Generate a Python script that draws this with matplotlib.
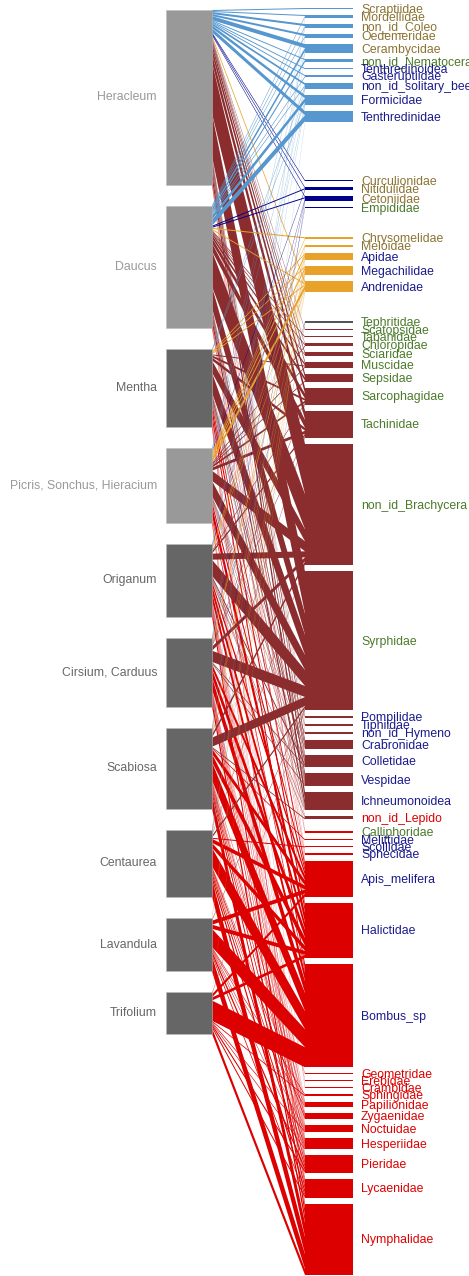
import matplotlib.pyplot as plt
from matplotlib.patches import Rectangle, Polygon
import numpy as np

plt.rcParams['font.family'] = ['Liberation Sans', 'DejaVu Sans']

# plants (lower level), top to bottom
plants = ["Heracleum", "Daucus", "Mentha", "Picris, Sonchus, Hieracium", "Origanum",
          "Cirsium, Carduus", "Scabiosa", "Centaurea", "Lavandula", "Trifolium"]
plant_shade = ["light", "light", "dark", "light", "dark",
               "dark", "dark", "dark", "dark", "dark"]

# insects (higher level), top to bottom
insects = ["Scraptiidae", "Mordellidae", "non_id_Coleo", "Oedemeridae", "Cerambycidae",
           "non_id_Nematocera", "Tenthredinoidea", "Gasteruptiidae", "non_id_solitary_bee",
           "Formicidae", "Tenthredinidae",
           "Curculionidae", "Nitidulidae", "Cetoniidae", "Empididae",
           "Chrysomelidae", "Meloidae", "Apidae", "Megachilidae", "Andrenidae",
           "Tephritidae", "Scatopsidae", "Tabanidae", "Chloropidae", "Sciaridae", "Muscidae",
           "Sepsidae", "Sarcophagidae", "Tachinidae", "non_id_Brachycera", "Syrphidae",
           "Pompilidae", "Tiphiidae", "non_id_Hymeno", "Crabronidae", "Colletidae", "Vespidae",
           "Ichneumonoidea", "non_id_Lepido",
           "Calliphoridae", "Melittidae", "Scoliidae", "Sphecidae", "Apis_melifera",
           "Halictidae", "Bombus_sp", "Geometridae", "Erebidae", "Crambidae", "Sphingidae",
           "Papilionidae", "Zygaenidae", "Noctuidae", "Hesperiidae", "Pieridae",
           "Lycaenidae", "Nymphalidae"]

# insect order -> label colour
insect_order = ["Col", "Col", "Col", "Col", "Col", "Dip", "Hym", "Hym", "Hym", "Hym", "Hym",
                "Col", "Col", "Col", "Dip",
                "Col", "Col", "Hym", "Hym", "Hym",
                "Dip", "Dip", "Dip", "Dip", "Dip", "Dip", "Dip", "Dip", "Dip", "Dip", "Dip",
                "Hym", "Hym", "Hym", "Hym", "Hym", "Hym", "Hym", "Lep",
                "Dip", "Hym", "Hym", "Hym", "Hym", "Hym", "Hym", "Lep", "Lep", "Lep", "Lep",
                "Lep", "Lep", "Lep", "Lep", "Lep", "Lep", "Lep"]

# module -> box and link colour
insect_module = ["A"] * 11 + ["B"] * 4 + ["C"] * 5 + ["G"] + ["D"] * 18 + ["E"] * 18

# visits: one row per insect, columns follow plants
visits = np.array([
    [1, 0, 0, 0, 0, 0, 0, 0, 0, 0],
    [1, 1, 0, 0, 0, 0, 1, 0, 0, 0],
    [2, 1, 0, 1, 0, 0, 0, 0, 0, 0],
    [2, 1, 0, 0, 0, 1, 0, 0, 0, 0],
    [4, 3, 0, 1, 0, 0, 1, 0, 0, 0],
    [1, 2, 0, 0, 0, 0, 0, 0, 0, 0],
    [1, 0, 0, 0, 0, 0, 0, 0, 0, 0],
    [1, 1, 0, 0, 0, 0, 0, 0, 0, 0],
    [2, 1, 1, 1, 1, 0, 0, 0, 0, 0],
    [3, 4, 1, 0, 1, 1, 0, 0, 0, 0],
    [4, 6, 0, 0, 0, 0, 0, 1, 0, 0],
    [1, 0, 0, 0, 0, 0, 0, 0, 0, 0],
    [1, 1, 0, 1, 0, 0, 0, 0, 0, 0],
    [1, 1, 0, 0, 1, 1, 0, 1, 0, 0],
    [0, 0, 0, 0, 0, 0, 1, 0, 0, 0],
    [0, 1, 0, 1, 0, 0, 0, 0, 0, 0],
    [0, 0, 0, 1, 0, 0, 1, 0, 0, 0],
    [0, 0, 1, 2, 1, 1, 0, 0, 1, 1],
    [0, 0, 1, 2, 1, 2, 1, 1, 1, 0],
    [2, 1, 1, 4, 1, 0, 1, 1, 0, 0],
    [0, 0, 0, 0, 0, 1, 0, 1, 0, 0],
    [1, 0, 0, 0, 0, 0, 0, 0, 0, 0],
    [0, 1, 0, 0, 0, 0, 0, 0, 0, 0],
    [1, 1, 0, 1, 0, 0, 0, 0, 0, 0],
    [2, 1, 0, 0, 0, 0, 0, 0, 0, 0],
    [2, 2, 1, 1, 0, 0, 0, 0, 0, 0],
    [4, 3, 0, 1, 0, 0, 0, 0, 0, 0],
    [6, 5, 2, 2, 1, 1, 0, 0, 0, 0],
    [9, 8, 3, 3, 2, 1, 1, 0, 0, 0],
    [50, 35, 12, 10, 6, 4, 3, 1, 0, 0],
    [42, 21, 20, 15, 16, 11, 9, 2, 1, 1],
    [1, 1, 0, 0, 0, 0, 0, 0, 0, 0],
    [1, 0, 1, 0, 0, 0, 0, 0, 0, 0],
    [1, 0, 0, 1, 0, 0, 0, 0, 0, 0],
    [4, 3, 1, 1, 0, 0, 0, 0, 0, 0],
    [3, 2, 3, 1, 2, 1, 0, 0, 0, 0],
    [5, 3, 2, 1, 1, 1, 0, 0, 0, 0],
    [8, 6, 2, 1, 1, 0, 0, 0, 0, 0],
    [0, 0, 1, 0, 1, 0, 1, 0, 0, 0],
    [1, 1, 0, 0, 0, 0, 0, 0, 0, 0],
    [0, 0, 0, 0, 0, 0, 1, 0, 0, 0],
    [0, 0, 0, 0, 0, 0, 0, 1, 0, 0],
    [1, 1, 0, 0, 0, 0, 0, 0, 0, 0],
    [1, 1, 4, 4, 4, 5, 5, 4, 4, 3],
    [2, 2, 6, 10, 7, 8, 8, 5, 4, 3],
    [0, 0, 6, 3, 8, 12, 18, 18, 18, 20],
    [0, 0, 0, 0, 0, 0, 1, 0, 0, 0],
    [0, 0, 0, 0, 1, 0, 0, 0, 0, 0],
    [0, 0, 1, 0, 0, 0, 0, 0, 0, 0],
    [0, 0, 0, 0, 0, 0, 0, 0, 1, 1],
    [0, 0, 0, 0, 1, 1, 1, 1, 1, 0],
    [0, 0, 0, 0, 1, 1, 2, 2, 0, 0],
    [0, 0, 1, 0, 1, 1, 1, 1, 1, 1],
    [0, 0, 1, 1, 1, 2, 2, 2, 1, 1],
    [0, 0, 1, 1, 2, 2, 3, 3, 3, 2],
    [0, 0, 1, 1, 2, 3, 4, 4, 2, 2],
    [0, 0, 3, 2, 7, 7, 14, 17, 15, 6],
])

# styles
module_col = {"A": "#5597CE", "B": "#00008B", "C": "#E8A22A", "G": "#555555",
              "D": "#8B2D2F", "E": "#DD0000"}
order_col = {"Col": "#8B7332", "Dip": "#4B7A2A", "Hym": "#1A1A8C", "Lep": "#DD0000"}
shade_col = {"light": "#999999", "dark": "#666666"}

# layout (pixels)
P_X0, P_X1 = 166, 212
I_X0, I_X1 = 305, 353
P_TOP, P_BOT, P_GAP = 10, 1034, 21
I_TOP, I_BOT, I_GAP = 8, 1275, 6
extra_gap = {"Curculionidae": 52, "Chrysomelidae": 23, "Tephritidae": 23, "Calliphoridae": 6}


def stack(totals, top, bot, gaps):
    scale = (bot - top - sum(gaps)) / totals.sum()
    starts = []
    y = top
    for t, g in zip(totals, gaps):
        y += g
        starts.append(y)
        y += t * scale
    return np.array(starts), scale


plant_tot = visits.sum(axis=0)
insect_tot = visits.sum(axis=1)

p_gaps = [0] + [P_GAP] * (len(plants) - 1)
i_gaps = [0] + [I_GAP + extra_gap.get(n, 0) for n in insects[1:]]
p_y, p_scale = stack(plant_tot, P_TOP, P_BOT, p_gaps)
i_y, i_scale = stack(insect_tot, I_TOP, I_BOT, i_gaps)

fig = plt.figure(figsize=(4.69, 12.76), dpi=100)
ax = fig.add_axes([0, 0, 1, 1])
ax.set_xlim(0, 469)
ax.set_ylim(1276, 0)
ax.axis('off')

# offsets inside boxes: plant side ordered by insect, insect side ordered by plant
p_off = np.cumsum(np.vstack([np.zeros(len(plants)), visits]), axis=0)[:-1] * p_scale
i_off = np.cumsum(np.hstack([np.zeros((len(insects), 1)), visits]), axis=1)[:, :-1] * i_scale

for i in range(len(plants)):
    for j in range(len(insects)):
        w = visits[j, i]
        if w == 0:
            continue
        a0 = p_y[i] + p_off[j, i]
        a1 = a0 + w * p_scale
        b0 = i_y[j] + i_off[j, i]
        b1 = b0 + w * i_scale
        ax.add_patch(Polygon([(P_X1, a0), (P_X1, a1), (I_X0, b1), (I_X0, b0)],
                             closed=True, facecolor=module_col[insect_module[j]],
                             edgecolor='none', lw=0, zorder=1))

for i, name in enumerate(plants):
    h = plant_tot[i] * p_scale
    ax.add_patch(Rectangle((P_X0, p_y[i]), P_X1 - P_X0, h,
                           facecolor=shade_col[plant_shade[i]], edgecolor='#bbbbbb',
                           lw=0.4, zorder=3))
    ax.text(P_X0 - 9, p_y[i] + h / 2, name, ha='right', va='center', fontsize=8.8,
            color=shade_col[plant_shade[i]])

for j, name in enumerate(insects):
    h = insect_tot[j] * i_scale
    ax.add_patch(Rectangle((I_X0, i_y[j]), I_X1 - I_X0, h,
                           facecolor=module_col[insect_module[j]], edgecolor='none',
                           lw=0, zorder=3))
    ax.text(I_X1 + 8, i_y[j] + h / 2 + 1, name, ha='left', va='center', fontsize=8.8,
            color=order_col[insect_order[j]])

fig.savefig("out.png", dpi=100, facecolor='white')
plt.close(fig)
